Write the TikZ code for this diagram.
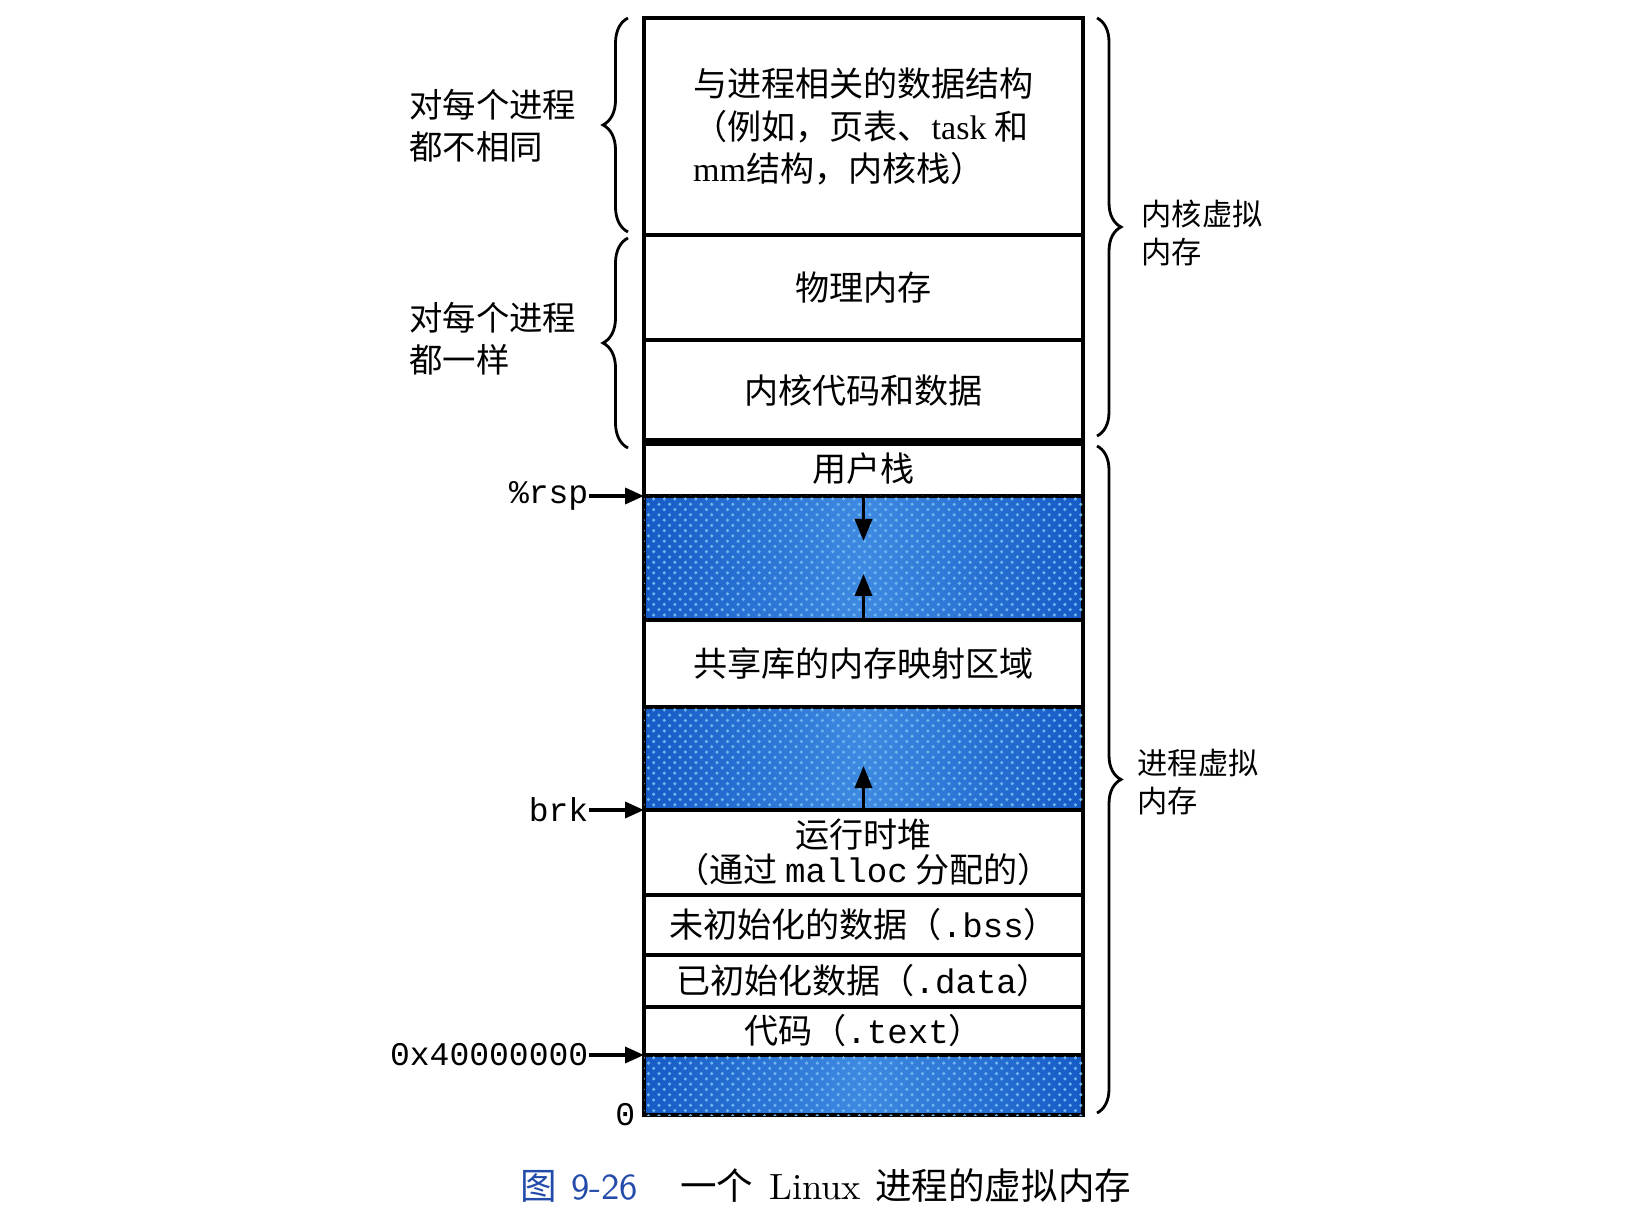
\documentclass[tikz,border=0pt]{standalone}
\usepackage{fontspec}
\setmonofont{Liberation Mono}
\newfontfamily\cjk{Noto Sans CJK SC}
\newfontfamily\tms{Liberation Serif}
\usepackage{tikz}
\usetikzlibrary{positioning,arrows.meta,decorations.pathreplacing,patterns}
\definecolor{holeblue}{RGB}{22,90,198}
\definecolor{holelight}{RGB}{62,138,225}
\definecolor{holespeck}{RGB}{110,180,240}
\definecolor{capblue}{RGB}{35,75,170}
\tikzstyle{seg}=[draw,line width=1pt,minimum width=4.39cm,inner sep=0pt,outer sep=0pt,align=center,font=\cjk\fontsize{9.7pt}{12.2pt}\selectfont]
\tikzstyle{hole}=[seg,left color=holeblue,right color=holeblue,middle color=holelight,
  postaction={pattern=crosshatch dots,pattern color=holespeck}]
\tikzstyle{growarr}=[line width=1pt,-{Triangle[length=2.2mm,width=1.7mm]}]
\tikzstyle{ptr}=[line width=1pt,-{Triangle[length=1.9mm,width=1.6mm]}]
\tikzstyle{addr}=[inner sep=0pt,font=\ttfamily\fontsize{9.4pt}{11pt}\selectfont]
\tikzstyle{side}=[align=left,inner sep=0pt,font=\cjk\fontsize{9.5pt}{12pt}\selectfont]
\tikzstyle{rside}=[side,font=\cjk\fontsize{8.6pt}{10.8pt}\selectfont]
\tikzstyle{lbr}=[decorate,decoration={brace,amplitude=0.25cm},line width=0.8pt]
\tikzstyle{rbr}=[decorate,decoration={brace,amplitude=0.24cm},line width=0.8pt]

\begin{document}
\begin{tikzpicture}
\useasboundingbox (0,0) rectangle (16.46,-12.16);

% kernel part
\node[seg,minimum height=2.17cm,anchor=north,align=left] (ksdata) at (8.635,-0.18)
  {与进程相关的数据结构\\（例如，页表、{\tms task} 和\\{\tms mm}结构，内核栈）};
\node[seg,minimum height=1.05cm,below=0pt of ksdata] (phys) {物理内存};
\node[seg,minimum height=1.02cm,below=0pt of phys] (kcode) {内核代码和数据};

% process part
\node[seg,minimum height=0.54cm,below=0pt of kcode] (ustack) {用户栈};
\node[hole,minimum height=1.24cm,below=0pt of ustack] (gap1) {};
\node[seg,minimum height=0.87cm,below=0pt of gap1] (shlib) {共享库的内存映射区域};
\node[hole,minimum height=1.03cm,below=0pt of shlib] (gap2) {};
\node[seg,minimum height=0.85cm,below=0pt of gap2,font=\cjk\fontsize{9.7pt}{10pt}\selectfont] (heap)
  {运行时堆\\（通过 \texttt{malloc} 分配的）};
\node[seg,minimum height=0.60cm,below=0pt of heap] (bss) {未初始化的数据（\texttt{.bss}）};
\node[seg,minimum height=0.52cm,below=0pt of bss] (data) {已初始化数据（\texttt{.data}）};
\node[seg,minimum height=0.48cm,below=0pt of data] (text) {代码（\texttt{.text}）};
\node[hole,minimum height=0.60cm,below=0pt of text] (gap3) {};

\draw[line width=2.4pt] (kcode.south west) -- (kcode.south east);

% growth arrows
\coordinate[below=0.45cm of gap1.north] (stk);
\coordinate[above=0.46cm of gap1.south] (shl);
\coordinate[above=0.44cm of gap2.south] (hp);
\draw[growarr] (gap1.north) -- (stk);
\draw[growarr] (gap1.south) -- (shl);
\draw[growarr] (gap2.south) -- (hp);

% addresses
\node[addr,left=0.55cm of gap1.north west] (rsp) {\%rsp};
\node[addr,left=0.55cm of gap2.south west] (brk) {brk};
\node[addr,left=0.55cm of gap3.north west] (base) {0x40000000};
\node[addr,left=0.08cm of gap3.south west] (zero) {0};
\foreach \src/\dst in {rsp/gap1.north west, brk/gap2.south west, base/gap3.north west}
  \draw[ptr] (\src) -- (\dst);

% braces
\draw[lbr] ([xshift=-0.16cm,yshift=0.03cm]ksdata.south west) -- ([xshift=-0.16cm]ksdata.north west);
\draw[lbr] ([xshift=-0.16cm,yshift=-0.06cm]ustack.north west) -- ([xshift=-0.16cm,yshift=-0.03cm]phys.north west);
\draw[rbr] ([xshift=0.14cm]ksdata.north east) -- ([xshift=0.14cm,yshift=0.06cm]kcode.south east);
\draw[rbr] ([xshift=0.14cm,yshift=-0.04cm]ustack.north east) -- ([xshift=0.14cm,yshift=0.02cm]gap3.south east);

\node[side,anchor=east] (diff) at (5.77,-1.26) {对每个进程\\都不相同};
\node[side,anchor=east] (same) at (5.77,-3.39) {对每个进程\\都一样};
\node[rside,anchor=west] (kvm) at (11.41,-2.33) {内核虚拟\\内存};
\node[rside,anchor=west] (pvm) at (11.37,-7.82) {进程虚拟\\内存};

% caption
\node[anchor=west,inner sep=0pt,font=\cjk\fontsize{10.4pt}{12pt}\selectfont] (cap) at (5.20,-11.86)
  {\textcolor{capblue}{图\hspace{0.14cm}{\sffamily 9-26}}\hspace{0.42cm}一个\hspace{0.16cm}{\rmfamily Linux}\hspace{0.14cm}进程的虚拟内存};

\end{tikzpicture}
\end{document}
